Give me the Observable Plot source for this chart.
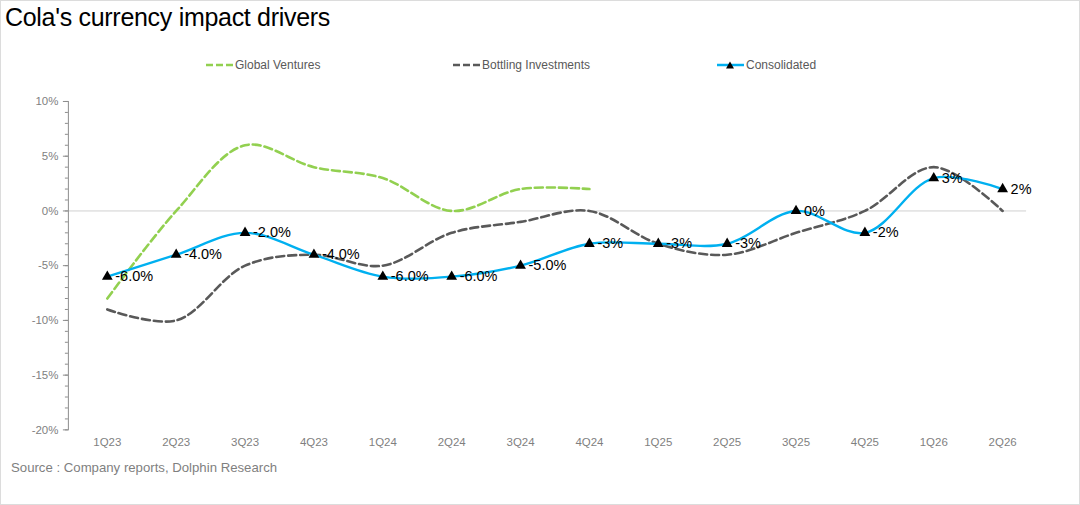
<!DOCTYPE html>
<html>
<head>
<meta charset="utf-8">
<script src="https://cdn.jsdelivr.net/npm/d3@7"></script>
<script src="https://cdn.jsdelivr.net/npm/@observablehq/plot@0.6"></script>
<style>
  body { margin: 0; background: #fff; font-family: "Liberation Sans", Arial, sans-serif; }
  #page { position: relative; width: 1078px; height: 503px; border: 1px solid #dcdcdc; overflow: hidden; background: #fff; }
  #title { position: absolute; left: 4px; top: 2px; font-size: 25px; color: #000; letter-spacing: -0.3px; }
  #legend { position: absolute; top: 56px; left: 0; width: 1080px; height: 18px; font-size: 12px; color: #595959; }
  .item { position: absolute; top: 0; display: flex; align-items: center; height: 16px; }
  .item svg { margin-right: 2px; }
  #chart { position: absolute; left: 0; top: 90px; }
  #source { position: absolute; left: 10px; top: 459px; font-size: 13.2px; color: #7f7f7f; }
</style>
</head>
<body>
<div id="page">
  <div id="title">Cola's currency impact drivers</div>
  <div id="legend"></div>
  <div id="chart"></div>
  <div id="source">Source : Company reports, Dolphin Research</div>
</div>
<script>
const quarters = ["1Q23","2Q23","3Q23","4Q23","1Q24","2Q24","3Q24","4Q24","1Q25","2Q25","3Q25","4Q25","1Q26","2Q26"];
const globalVentures = [-8, 0, 6, 4, 3, 0, 2, 2];
const bottlingInvestments = [-9, -10, -5, -4, -5, -2, -1, 0, -3, -4, -2, 0, 4, 0];
const consolidated = [-6, -4, -2, -4, -6, -6, -5, -3, -3, -3, 0, -2, 3, 2];
const consolidatedLabels = ["-6.0%","-4.0%","-2.0%","-4.0%","-6.0%","-6.0%","-5.0%","-3%","-3%","-3%","0%","-2%","3%","2%"];
const yMajorTicks = [-20, -15, -10, -5, 0, 5, 10];
const yMinorTicks = d3.range(-20, 11, 1);
const seriesNames = ["Global Ventures", "Bottling Investments", "Consolidated"];
const seriesColors = ["#92D050", "#595959", "#00B0F0"];

const gv = globalVentures.map((v, i) => ({q: quarters[i], v}));
const bi = bottlingInvestments.map((v, i) => ({q: quarters[i], v}));
const co = consolidated.map((v, i) => ({q: quarters[i], v, label: consolidatedLabels[i]}));

// Legend
const legendX = [205, 452, 716];
const legend = document.getElementById("legend");
seriesNames.forEach((name, i) => {
  const div = document.createElement("div");
  div.className = "item";
  div.style.left = legendX[i] + "px";
  const dash = i < 2 ? 'stroke-dasharray="7,3"' : '';
  const tri = i === 2 ? '<path d="M13,4.5 L17,11.5 L9,11.5 Z" fill="#000"/>' : '';
  div.innerHTML = `<svg width="27" height="16"><line x1="0" x2="27" y1="8" y2="8" stroke="${seriesColors[i]}" stroke-width="2.5" ${dash}/>${tri}</svg><span>${name}</span>`;
  legend.appendChild(div);
});

const chart = Plot.plot({
  width: 1080,
  height: 365,
  marginLeft: 67,
  marginRight: 53,
  marginTop: 10,
  marginBottom: 26,
  style: {fontFamily: "Liberation Sans, Arial, sans-serif", fontSize: "11.5px", color: "#7f7f7f", background: "transparent"},
  x: {type: "point", domain: quarters, range: [67, 1042], padding: 0.5},
  y: {domain: [-20, 10], label: null},
  marks: [
    Plot.ruleY([0], {stroke: "#d0d0d0", strokeWidth: 1}),
    Plot.frame({anchor: "left", stroke: "#8c8c8c"}),
    Plot.axisY(yMinorTicks, {tickSize: 3, tickFormat: () => "", stroke: "#8c8c8c", label: null}),
    Plot.axisY(yMajorTicks, {tickSize: 5, tickPadding: 5, tickFormat: d => d + "%", stroke: "#8c8c8c", label: null}),
    Plot.axisX({tickSize: 0, tickPadding: 8, label: null}),
    Plot.line(gv, {x: "q", y: "v", stroke: seriesColors[0], strokeWidth: 2.6, strokeDasharray: "8,4", curve: "catmull-rom"}),
    Plot.line(bi, {x: "q", y: "v", stroke: seriesColors[1], strokeWidth: 2.6, strokeDasharray: "8,4", curve: "catmull-rom"}),
    Plot.line(co, {x: "q", y: "v", stroke: seriesColors[2], strokeWidth: 2.4, curve: "catmull-rom"}),
    Plot.dot(co, {x: "q", y: "v", symbol: "triangle", fill: "#000", r: 4}),
    Plot.text(co, {x: "q", y: "v", text: "label", textAnchor: "start", dx: 8, fill: "#000", fontSize: 14.5})
  ]
});
document.getElementById("chart").appendChild(chart);
</script>
</body>
</html>
